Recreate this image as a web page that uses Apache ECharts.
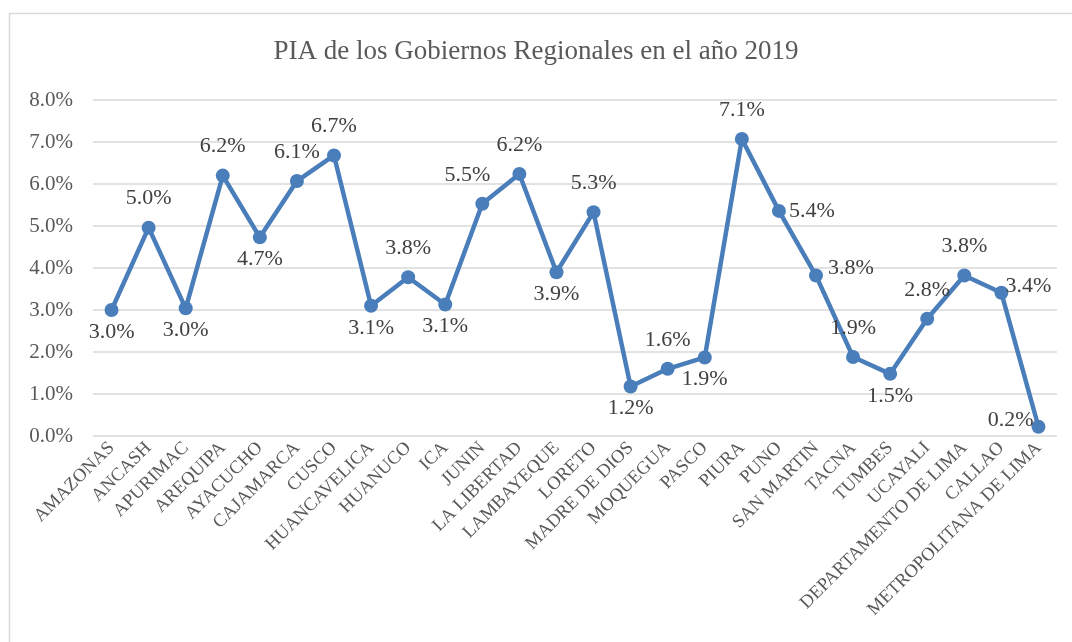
<!DOCTYPE html>
<html>
<head>
<meta charset="utf-8">
<script src="https://cdn.jsdelivr.net/npm/echarts@6/dist/echarts.min.js"></script>
<style>
  html, body { margin: 0; padding: 0; background: #fff; }
  #chart { width: 1072px; height: 642px; }
</style>
</head>
<body>
<div id="chart"></div>
<script>
// regiones y porcentaje del PIA (en %)
var regiones = ['AMAZONAS', 'ANCASH', 'APURIMAC', 'AREQUIPA', 'AYACUCHO', 'CAJAMARCA', 'CUSCO',
    'HUANCAVELICA', 'HUANUCO', 'ICA', 'JUNIN', 'LA LIBERTAD', 'LAMBAYEQUE', 'LORETO',
    'MADRE DE DIOS', 'MOQUEGUA', 'PASCO', 'PIURA', 'PUNO', 'SAN MARTIN', 'TACNA', 'TUMBES',
    'UCAYALI', 'DEPARTAMENTO DE LIMA', 'CALLAO', 'METROPOLITANA DE LIMA'];
var pia = [3.0, 4.96, 3.04, 6.2, 4.73, 6.07, 6.68, 3.1, 3.78, 3.13, 5.53, 6.24, 3.9, 5.33,
    1.18, 1.6, 1.87, 7.07, 5.36, 3.82, 1.88, 1.48, 2.79, 3.82, 3.41, 0.22];
var yTicks = { min: 0, max: 8, step: 1 };

var dom = document.getElementById('chart');
var myChart = echarts.init(dom);
var serif = '"Liberation Serif", "DejaVu Serif", serif';
var gris = '#595959';

// donde va cada etiqueta (como en excel)
var lugar = ['bottom', 'top', 'bottom', 'top', 'bottom', 'top', 'top', 'bottom', 'top', 'bottom',
    'top', 'top', 'bottom', 'top', 'bottom', 'top', 'bottom', 'top', 'right', 'right',
    'top', 'bottom', 'top', 'top', 'right', 'left'];
var base = { top: [0, -4], bottom: [0, -3], right: [-4, 0], left: [0, 0] };
var desplaz = { 10: [-15, -4], 19: [-2, -7], 24: [-10, -7], 25: [9, -7] };

var puntos = pia.map(function (v, i) {
    return {
        value: v,
        label: { position: lugar[i], offset: desplaz[i] || base[lugar[i]] }
    };
});

var option = {
    backgroundColor: '#fff',
    title: {
        text: 'PIA de los Gobiernos Regionales en el año 2019',
        left: 'center',
        top: 33,
        textStyle: { fontFamily: serif, fontSize: 27, fontWeight: 'normal', color: gris }
    },
    graphic: [{
        type: 'rect',
        shape: { x: 9.5, y: 13.5, width: 1070, height: 640 },
        style: { fill: 'none', stroke: '#d9d9d9', lineWidth: 1.5 },
        silent: true
    }],
    grid: { left: 93, right: 15, top: 100, bottom: 206, containLabel: false },
    xAxis: {
        type: 'category',
        data: regiones,
        boundaryGap: true,
        axisLine: { show: false },
        axisTick: { show: false },
        axisLabel: {
            interval: 0, rotate: 45, margin: 9,
            fontFamily: serif, fontSize: 18.5, color: gris
        }
    },
    yAxis: {
        type: 'value',
        min: yTicks.min, max: yTicks.max, interval: yTicks.step,
        axisLine: { show: false },
        axisTick: { show: false },
        splitLine: { lineStyle: { color: '#d9d9d9', width: 1.5 } },
        axisLabel: {
            margin: 20, fontFamily: serif, fontSize: 21, color: gris,
            formatter: function (v) { return v.toFixed(1) + '%'; }
        }
    },
    series: [{
        name: 'PIA',
        type: 'line',
        data: puntos,
        symbol: 'circle',
        symbolSize: 14,
        lineStyle: { color: '#4a7ebb', width: 4.5 },
        itemStyle: { color: '#4a7ebb' },
        label: {
            show: true, distance: 7,
            fontFamily: serif, fontSize: 22, color: '#404040',
            formatter: function (p) { return p.value.toFixed(1) + '%'; }
        },
        animation: false
    }]
};
myChart.setOption(option);
</script>
</body>
</html>
